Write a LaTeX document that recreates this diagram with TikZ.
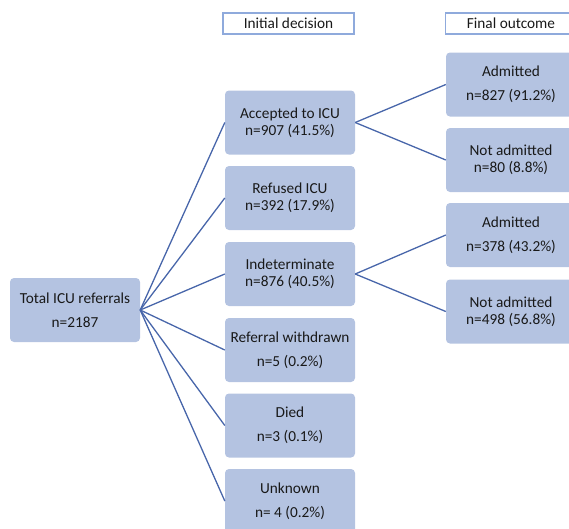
\documentclass[tikz,border=0pt]{standalone}
\usepackage{fontspec}
\setmainfont{Carlito}
\usepackage{xcolor}
\definecolor{boxblue}{HTML}{B4C3E1}
\definecolor{lineblue}{HTML}{4866AA}
\definecolor{headblue}{HTML}{8FAADC}

\begin{document}
\begin{tikzpicture}[x=1pt,y=-1pt]
    \tikzstyle{every node}=[font=\fontsize{15.3}{16.7}\selectfont, text=black!90, align=center]
    \tikzstyle{stage}=[fill=boxblue, rounded corners=4pt, minimum width=130pt, minimum height=64pt, inner sep=0pt]
    \tikzstyle{head}=[draw=headblue, line width=1.2pt, minimum width=131pt, minimum height=21pt, inner sep=0pt]
    \tikzstyle{link}=[draw=lineblue, line width=1.3pt]
    \useasboundingbox (0,0) rectangle (569,528);
    \clip (0,0) rectangle (569,528);
    % column headers
    \node[head] (hinit) at (288.5, 23.5) {Initial decision};
    \node[head] (hfinal) at (511, 23.5) {Final outcome};
    % start
    \node[stage] (total) at (75, 310) {Total ICU referrals\\[7pt]n=2187};
    % initial decision
    \node[stage] (acc) at (290, 122.5) {Accepted to ICU\\n=907 (41.5\%)};
    \node[stage] (ref) at (290, 198) {Refused ICU\\n=392 (17.9\%)};
    \node[stage] (ind) at (290, 274) {Indeterminate\\n=876 (40.5\%)};
    \node[stage] (wd) at (290, 350) {Referral withdrawn\\[7pt]n=5 (0.2\%)};
    \node[stage] (died) at (290, 425.5) {Died\\[7pt]n=3 (0.1\%)};
    \node[stage] (unk) at (290, 501) {Unknown\\[7pt]n= 4 (0.2\%)};
    % final outcome
    \node[stage] (adm1) at (511, 84.5) {Admitted\\[7pt]n=827 (91.2\%)};
    \node[stage] (nadm1) at (511, 160) {Not admitted\\n=80 (8.8\%)};
    \node[stage] (adm2) at (511, 235) {Admitted\\[7pt]n=378 (43.2\%)};
    \node[stage] (nadm2) at (511, 311.5) {Not admitted\\n=498 (56.8\%)};
    \foreach \d in {acc, ref, ind, wd, died, unk}
        \path (total.east) edge[link] (\d.west);
    \path (acc.east) edge[link] (adm1.west);
    \path (acc.east) edge[link] (nadm1.west);
    \path (ind.east) edge[link] (adm2.west);
    \path (ind.east) edge[link] (nadm2.west);
\end{tikzpicture}
\end{document}
